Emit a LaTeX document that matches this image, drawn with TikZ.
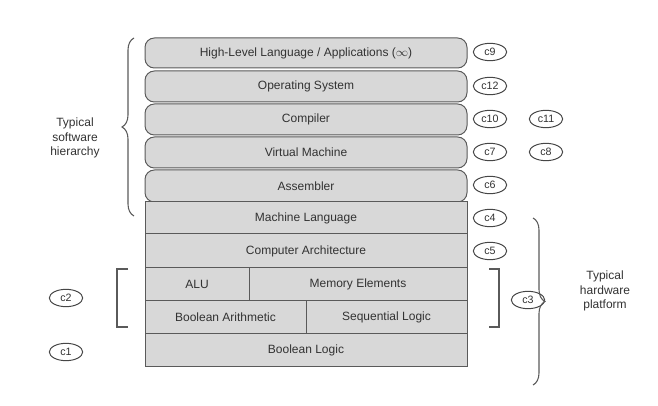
\documentclass[tikz,border=0pt]{standalone}
\usepackage{fontspec}
\setmainfont{Liberation Sans}
\usetikzlibrary{decorations.pathreplacing,shapes.geometric}
\tikzset{every picture/.style={line width=0.75pt}}
\tikzset{
  layer/.style={draw={rgb,255:red,90;green,90;blue,90}, fill={rgb,255:red,216;green,216;blue,216}, text={rgb,255:red,50;green,50;blue,50}, font=\fontsize{9}{11}\selectfont},
  soft/.style={layer, rounded corners=7pt},
  tag/.style={draw={rgb,255:red,70;green,70;blue,70}, ellipse, minimum width=25pt, minimum height=13pt, inner sep=0pt, text={rgb,255:red,50;green,50;blue,50}, font=\fontsize{8}{10}\selectfont},
  sidetext/.style={align=center, text={rgb,255:red,50;green,50;blue,50}, font=\fontsize{9}{11}\selectfont},
  bracket/.style={draw={rgb,255:red,90;green,90;blue,90}, line width=0.8pt},
  brace/.style={bracket, decorate, decoration={brace, amplitude=9pt}}
}

\begin{document}
\begin{tikzpicture}[x=0.75pt,y=0.75pt,yscale=-1,xscale=1]
\useasboundingbox (0,0) rectangle (658,406);

% software layers
\draw [soft] (145,38) rectangle (467,68) node [pos=0.5] (hll) {High-Level Language / Applications ($\infty$)};
\draw [soft] (145,71) rectangle (467,102) node [pos=0.5] (os) {Operating System};
\draw [soft] (145,104) rectangle (467,135) node [pos=0.5] (comp) {Compiler};
\draw [soft] (145,137) rectangle (467,168) node [pos=0.5] (vm) {Virtual Machine};
\draw [soft] (145,170) rectangle (467,202) node [pos=0.5] (asm) {Assembler};

% hardware layers
\draw [layer] (145,202) rectangle (467,234) node [pos=0.5] (ml) {Machine Language};
\draw [layer] (145,234) rectangle (467,268) node [pos=0.5] (ca) {Computer Architecture};
\draw [layer] (145,268) rectangle (249,301) node [pos=0.5] (alu) {ALU};
\draw [layer] (249,268) rectangle (467,301) node [pos=0.5] (mem) {Memory Elements};
\draw [layer] (145,301) rectangle (306,334) node [pos=0.5] (ba) {Boolean Arithmetic};
\draw [layer] (306,301) rectangle (467,334) node [pos=0.5] (sl) {Sequential Logic};
\draw [layer] (145,334) rectangle (467,367) node [pos=0.5] (bl) {Boolean Logic};

% tags
\node [tag] (c9) at (490,52) {c9};
\node [tag] (c12) at (490,86) {c12};
\node [tag] (c10) at (490,119) {c10};
\node [tag] (c11) at (546,119) {c11};
\node [tag] (c7) at (490,152) {c7};
\node [tag] (c8) at (546,152) {c8};
\node [tag] (c6) at (490,185) {c6};
\node [tag] (c4) at (490,218) {c4};
\node [tag] (c5) at (490,251) {c5};
\node [tag] (c3) at (528,300) {c3};
\node [tag] (c2) at (66,298) {c2};
\node [tag] (c1) at (66,352) {c1};

% braces and brackets
\draw [brace] (134,216) -- (134,38);
\draw [brace] (533,218) -- (533,385);
\draw [bracket] (128,269) -- (117,269) -- (117,327) -- (128,327);
\draw [bracket] (489,269) -- (499,269) -- (499,327) -- (489,327);

\node [sidetext] (sw) at (75,138) {Typical\\software\\hierarchy};
\node [sidetext] (hw) at (605,291) {Typical\\hardware\\platform};

\end{tikzpicture}
\end{document}
